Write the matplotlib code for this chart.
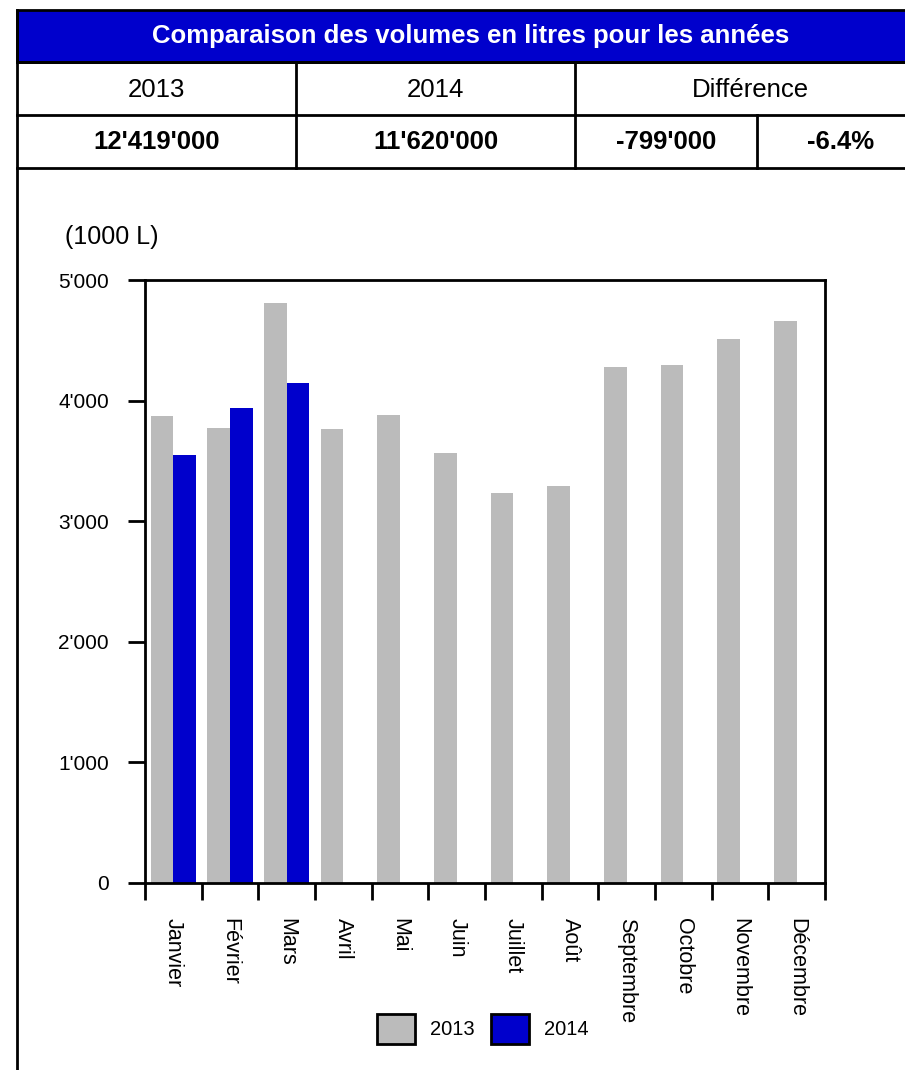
import matplotlib
matplotlib.use("Agg")
import matplotlib.pyplot as plt
from matplotlib.patches import Rectangle, Patch
from matplotlib.ticker import FuncFormatter, MultipleLocator
import numpy as np

plt.rcParams['font.family'] = ['Liberation Sans', 'DejaVu Sans']

# Data (1000 L)
months = ['Janvier', 'Février', 'Mars', 'Avril', 'Mai', 'Juin', 'Juillet',
          'Août', 'Septembre', 'Octobre', 'Novembre', 'Décembre']
vol_2013 = [3870, 3775, 4810, 3765, 3880, 3566, 3234, 3292, 4279, 4295, 4511, 4660]
vol_2014 = [3550, 3935, 4150]

table_title = "Comparaison des volumes en litres pour les années"
table_years = ['2013', '2014', 'Différence']
table_values = ["12'419'000", "11'620'000", "-799'000", "-6.4%"]

grey = '#BBBBBB'
blue = '#0000CC'

W, H = 905, 1070
fig = plt.figure(figsize=(W / 100, H / 100), dpi=100)

# header table, drawn in pixel coordinates
over = fig.add_axes([0, 0, 1, 1])
over.set_xlim(0, W)
over.set_ylim(H, 0)
over.axis('off')

right = 925
lw = 2
over.add_patch(Rectangle((17, 10), right - 17, 52, facecolor=blue, edgecolor='black', lw=lw))
for y in (62, 115, 168):
    over.plot([17, right], [y, y], color='black', lw=lw)
over.plot([17, 17], [10, H], color='black', lw=lw)
over.plot([296, 296], [62, 168], color='black', lw=lw)
over.plot([575, 575], [62, 168], color='black', lw=lw)
over.plot([757, 757], [115, 168], color='black', lw=lw)

tsize = 18.5
over.text((17 + right) / 2, 36, table_title, color='white', fontsize=tsize,
          fontweight='bold', ha='center', va='center')
centers_row2 = [(17 + 296) / 2, (296 + 575) / 2, (575 + right) / 2]
for cx, t in zip(centers_row2, table_years):
    over.text(cx, 90, t, fontsize=tsize, ha='center', va='center')
centers_row3 = [(17 + 296) / 2, (296 + 575) / 2, (575 + 757) / 2, (757 + right) / 2]
for cx, t in zip(centers_row3, table_values):
    over.text(cx, 142, t, fontsize=tsize, fontweight='bold', ha='center', va='center')

over.text(111.5, 237, '(1000 L)', fontsize=18, ha='center', va='center')

# bar chart
ax = fig.add_axes([145 / W, 1 - 883 / H, (825 - 145) / W, (883 - 280) / H])
x = np.arange(len(months))
w = 0.4
ax.bar(x - w / 2, vol_2013, width=w, color=grey, label='2013')
ax.bar(x[:len(vol_2014)] + w / 2, vol_2014, width=w, color=blue, label='2014')

ax.set_xlim(-0.5, len(months) - 0.5)
ax.set_ylim(0, 5000)
ax.yaxis.set_major_locator(MultipleLocator(1000))
ax.yaxis.set_major_formatter(FuncFormatter(lambda v, p: f"{int(v):,}".replace(',', "'")))
ax.tick_params(axis='y', length=12, width=2, pad=14, labelsize=15)

ax.set_xticks(x)
ax.set_xticklabels(months, rotation=270, fontsize=15.5, va='top', ha='center')
ax.tick_params(axis='x', which='major', length=0, pad=25)
ax.set_xticks(np.arange(-0.5, len(months)), minor=True)
ax.tick_params(axis='x', which='minor', length=12, width=2)

for s in ax.spines.values():
    s.set_linewidth(2)
    s.set_color('black')

handles = [Patch(facecolor=grey, edgecolor='black', lw=2, label='2013'),
           Patch(facecolor=blue, edgecolor='black', lw=2, label='2014')]
fig.legend(handles=handles, loc='center', bbox_to_anchor=(483 / W, 1 - 1029 / H),
           ncol=2, frameon=False, fontsize=14.5, handlelength=1.9, handleheight=1.9,
           handletextpad=0.75, columnspacing=0.8)

fig.savefig('out.png', dpi=100)
